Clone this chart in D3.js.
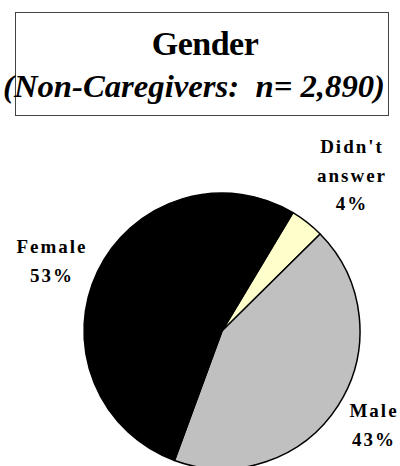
<!DOCTYPE html>
<html>
<head>
<meta charset="utf-8">
<script src="https://cdn.jsdelivr.net/npm/d3@7"></script>
<style>
  body { margin: 0; background: white; }
</style>
</head>
<body>
<div id="chart"></div>
<script>
var categories = ["Didn't answer", "Male", "Female"];
var percents = [4, 43, 53];
var colors = ["#FFFFCC", "#C0C0C0", "#000000"];
var labelLines = [["Didn't", "answer", "4%"], ["Male", "43%"], ["Female", "53%"]];

var svgWidth = 400,
    svgHeight = 466;
var serif = '"Liberation Serif", "Times New Roman", Times, serif';

var svg = d3.select('#chart').append('svg')
    .attr('width', svgWidth)
    .attr('height', svgHeight)
    .style('background', 'white');

// title box
svg.append('rect')
    .attr('x', 15.5).attr('y', 12.5)
    .attr('width', 373).attr('height', 103)
    .attr('fill', 'white')
    .attr('stroke', '#444').attr('stroke-width', 1);

svg.append('text')
    .text('Gender')
    .attr('x', 205).attr('y', 55)
    .attr('text-anchor', 'middle')
    .attr('font-family', serif).attr('font-weight', 'bold')
    .attr('font-size', '34px')
    .attr('letter-spacing', '-0.5px');

svg.append('text')
    .text('(Non-Caregivers:  n= 2,890)')
    .attr('x', 3).attr('y', 97)
    .attr('font-family', serif).attr('font-weight', 'bold')
    .attr('font-style', 'italic')
    .attr('font-size', '31px')
    .attr('textLength', 382)
    .attr('lengthAdjust', 'spacingAndGlyphs')
    .style('white-space', 'pre');

// pie
var cx = 222, cy = 331, r = 138;

var pie = d3.pie().sort(null)
    .startAngle(0.54).endAngle(0.54 + 2 * Math.PI)
    .value(function(d) { return d; });

var arc = d3.arc().innerRadius(0).outerRadius(r);

var g = svg.append('g').attr('transform', 'translate(' + cx + ',' + cy + ')');

g.selectAll('path')
    .data(pie(percents))
    .enter().append('path')
    .attr('d', arc)
    .attr('fill', function(d, i) { return colors[i]; })
    .attr('stroke', 'black')
    .attr('stroke-width', 1.5)
    .attr('stroke-linejoin', 'round');

// labels
var labelPos = [[352, 153], [374, 417], [52, 253]];
var lineGap = 28.5;

labelLines.forEach(function(lines, i) {
    var t = svg.append('text')
        .attr('text-anchor', 'middle')
        .attr('font-family', serif).attr('font-weight', 'bold')
        .attr('font-size', '19px')
        .attr('letter-spacing', '2px');
    lines.forEach(function(s, j) {
        t.append('tspan')
            .attr('x', labelPos[i][0])
            .attr('y', labelPos[i][1] + j * lineGap)
            .text(s);
    });
});
</script>
</body>
</html>
